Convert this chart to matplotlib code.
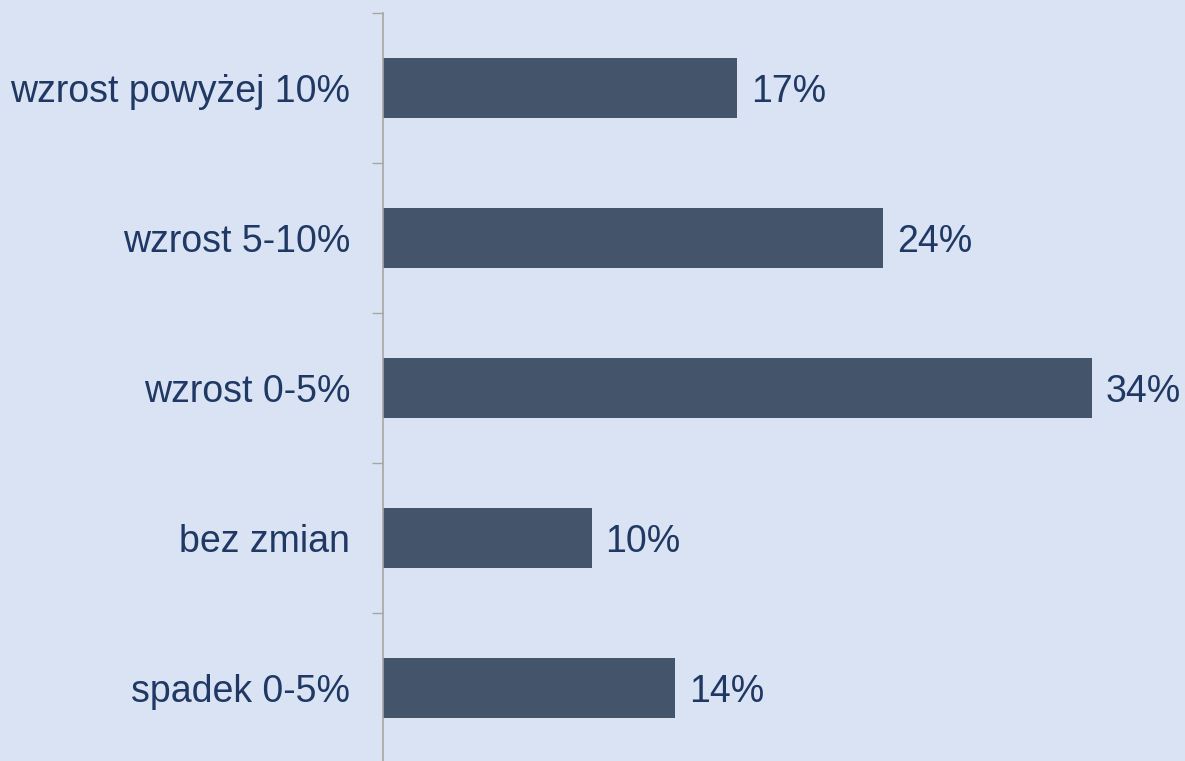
import matplotlib.pyplot as plt
import numpy as np

categories = ['wzrost powyżej 10%', 'wzrost 5-10%', 'wzrost 0-5%', 'bez zmian', 'spadek 0-5%']
values = [17, 24, 34, 10, 14]

bg = '#dae3f3'
bar_color = '#44546a'
text_color = '#1f3864'

plt.rcParams['font.family'] = ['Liberation Sans', 'DejaVu Sans']

fig = plt.figure(figsize=(11.85, 7.61), dpi=100, facecolor=bg)
# axes placed in pixel terms: y-axis at x=383, from y=13 down past the bottom
ax = fig.add_axes([383 / 1185, -2 / 761, 1 - 383 / 1185, 750 / 761])
ax.set_facecolor(bg)

y = np.arange(len(categories))
ax.barh(y, values, height=0.4, color=bar_color)
ax.set_ylim(len(categories) - 0.5, -0.5)
ax.set_xlim(0, 802 / 20.85)

for yi, v in zip(y, values):
    ax.text(v + 0.67, yi, f'{v}%', va='center_baseline', ha='left', fontsize=27, color=text_color)

ax.set_yticks(y)
ax.set_yticklabels(categories, fontsize=27, color=text_color, va='center_baseline')
ax.set_yticks(np.arange(len(categories) + 1) - 0.5, minor=True)
ax.tick_params(axis='y', which='major', length=0, pad=23.5)
ax.tick_params(axis='y', which='minor', length=8, width=1, color='#a6a6a6')
ax.set_xticks([])

for s in ['top', 'right', 'bottom']:
    ax.spines[s].set_visible(False)
ax.spines['left'].set_color('#a6a6a6')
ax.spines['left'].set_linewidth(1.2)

fig.savefig('out.png', dpi=100, facecolor=bg)
